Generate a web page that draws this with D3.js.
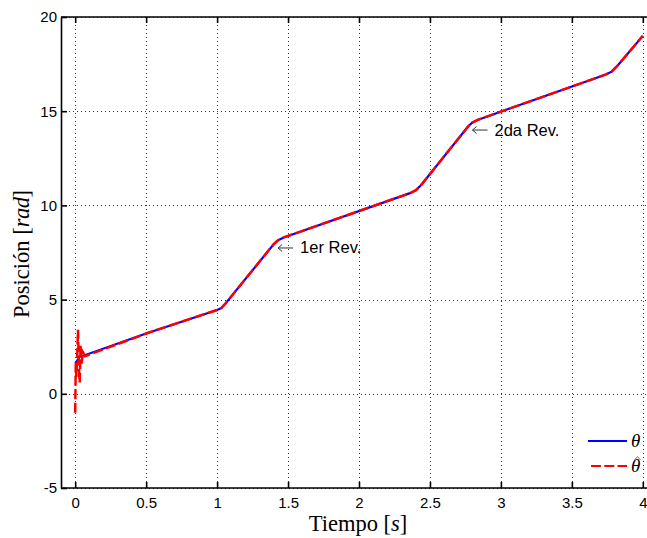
<!DOCTYPE html>
<html>
<head>
<meta charset="utf-8">
<script src="https://cdn.jsdelivr.net/npm/d3@7"></script>
<style>
  html, body { margin: 0; padding: 0; background: #fff; }
  svg { display: block; }
</style>
</head>
<body>
<svg id="chart" width="647" height="538"></svg>
<script>
// Measured angle (theta) and estimated angle (theta hat) over time
const thetaT = [0, 0.03, 0.5, 1.0, 1.03, 1.06, 1.40, 1.43, 1.47, 2.36, 2.40, 2.44, 2.77, 2.80, 2.84, 3.74, 3.78, 3.82, 4.0];
const thetaY = [1.6, 1.95, 3.2, 4.45, 4.55, 4.8, 7.95, 8.15, 8.3, 10.65, 10.8, 11.1, 14.2, 14.4, 14.55, 16.95, 17.1, 17.4, 19.0];

const hatT = [0, 0.004, 0.008, 0.014, 0.02, 0.026, 0.032, 0.038, 0.045, 0.055, 0.07, 0.5, 1.0, 1.03, 1.06, 1.40, 1.43, 1.47, 2.36, 2.40, 2.44, 2.77, 2.80, 2.84, 3.74, 3.78, 3.82, 4.0];
const hatY = [-1.0, 1.6, 0.9, 2.0, 3.4, 1.3, 0.6, 2.6, 1.6, 2.2, 2.0, 3.2, 4.45, 4.55, 4.8, 7.95, 8.15, 8.3, 10.65, 10.8, 11.1, 14.2, 14.4, 14.55, 16.95, 17.1, 17.4, 19.0];

const xTicks = [0, 0.5, 1, 1.5, 2, 2.5, 3, 3.5, 4];
const xTickLabels = ["0", "0.5", "1", "1.5", "2", "2.5", "3", "3.5", "4"];
const yTicks = [-5, 0, 5, 10, 15, 20];
const yTickLabels = ["-5", "0", "5", "10", "15", "20"];

// Annotations: arrow tip (t, y) and label
const noteT = [1.43, 2.80];
const noteY = [7.74, 14.0];
const noteText = ["1er Rev.", "2da Rev."];

const svg = d3.select("#chart");
const pLeft = 61, pTop = 17, pBottom = 488, pRight = 657;

const x = d3.scaleLinear().domain([-0.1, 4.1]).range([pLeft, pRight]);
const y = d3.scaleLinear().domain([-5, 20]).range([pBottom, pTop]);

// Grid
const grid = svg.append("g").attr("stroke", "#333").attr("stroke-width", 1).attr("stroke-dasharray", "1,3");
grid.selectAll("line.v").data(xTicks).join("line").attr("class", "v")
  .attr("x1", d => Math.round(x(d)) + 0.5).attr("x2", d => Math.round(x(d)) + 0.5)
  .attr("y1", pTop).attr("y2", pBottom);
grid.selectAll("line.h").data(yTicks).join("line").attr("class", "h")
  .attr("y1", d => Math.round(y(d)) + 0.5).attr("y2", d => Math.round(y(d)) + 0.5)
  .attr("x1", pLeft).attr("x2", pRight);

// Axes
const fontTick = "15px 'Liberation Sans', Arial, sans-serif";
const xAxis = d3.axisBottom(x).tickValues(xTicks).tickFormat((d, i) => xTickLabels[i]).tickSizeInner(-6).tickSizeOuter(0).tickPadding(9);
const gx = svg.append("g").attr("transform", `translate(0,${pBottom})`).call(xAxis);
const yAxis = d3.axisLeft(y).tickValues(yTicks).tickFormat((d, i) => yTickLabels[i]).tickSizeInner(-6).tickSizeOuter(0).tickPadding(4);
const gy = svg.append("g").attr("transform", `translate(${pLeft},0)`).call(yAxis);
// Top ticks
const xTop = d3.axisTop(x).tickValues(xTicks).tickFormat("").tickSizeInner(-6).tickSizeOuter(0);
const gt = svg.append("g").attr("transform", `translate(0,${pTop})`).call(xTop);

[gx, gy, gt].forEach(g => {
  g.select(".domain").attr("stroke", "#000").attr("stroke-width", 1.6);
  g.selectAll(".tick line").attr("stroke", "#000").attr("stroke-width", 1.6);
  g.selectAll(".tick text").attr("fill", "#000").style("font", fontTick);
});
gx.select(".domain").attr("d", `M${pLeft},0H${pRight}`);
gt.select(".domain").attr("d", `M${pLeft},0H${pRight}`);

// Lines
const line = d3.line().x(d => x(d[0])).y(d => y(d[1]));
const thetaData = thetaT.map((t, i) => [t, thetaY[i]]);
const hatData = hatT.map((t, i) => [t, hatY[i]]);

svg.append("path").datum(thetaData).attr("d", line)
  .attr("fill", "none").attr("stroke", "#0000ff").attr("stroke-width", 2.2);
svg.append("path").datum(hatData).attr("d", line)
  .attr("fill", "none").attr("stroke", "#ff0000").attr("stroke-width", 2.5)
  .attr("stroke-dasharray", "10,3.5");

// Annotations
noteT.forEach((t, i) => {
  const ax = x(t), ay = y(noteY[i]);
  const g = svg.append("g");
  g.append("path").attr("d", `M${ax},${ay}H${ax + 15}`).attr("stroke", "#333").attr("stroke-width", 1).attr("fill", "none");
  g.append("path").attr("d", `M${ax + 4},${ay - 3.5}L${ax},${ay}L${ax + 4},${ay + 3.5}`).attr("stroke", "#333").attr("stroke-width", 1).attr("fill", "none");
  g.append("text").attr("x", ax + 22).attr("y", ay + 5.5)
    .style("font", "16.5px 'Liberation Sans', Arial, sans-serif").attr("fill", "#000").text(noteText[i]);
});

// Legend
const lg = svg.append("g");
lg.append("line").attr("x1", 588).attr("x2", 627).attr("y1", 441).attr("y2", 441)
  .attr("stroke", "#0000ff").attr("stroke-width", 2.2);
lg.append("line").attr("x1", 591).attr("x2", 627).attr("y1", 466).attr("y2", 466)
  .attr("stroke", "#ff0000").attr("stroke-width", 2.2).attr("stroke-dasharray", "10,3.3");
lg.append("text").attr("x", 631).attr("y", 447)
  .style("font", "italic 19px 'Liberation Serif', 'Times New Roman', serif").text("θ");
lg.append("text").attr("x", 631).attr("y", 472)
  .style("font", "italic 19px 'Liberation Serif', 'Times New Roman', serif").text("θ");
lg.append("path").attr("d", "M634.5,460L637.5,456.5L640.5,460")
  .attr("stroke", "#777").attr("stroke-width", 1).attr("fill", "none");

// Axis titles
const serif = "'Liberation Serif', 'Times New Roman', serif";
const xt = svg.append("text").attr("x", 358).attr("y", 530.5).attr("text-anchor", "middle")
  .style("font", `22.5px ${serif}`);
xt.append("tspan").text("Tiempo [");
xt.append("tspan").style("font-style", "italic").text("s");
xt.append("tspan").text("]");

const yt = svg.append("text").attr("transform", "translate(29,318) rotate(-90)").attr("text-anchor", "start")
  .style("font", `22.5px ${serif}`);
yt.append("tspan").text("Posición [");
yt.append("tspan").style("font-style", "italic").attr("letter-spacing", "-0.5").text("rad");
yt.append("tspan").text("]");
</script>
</body>
</html>
